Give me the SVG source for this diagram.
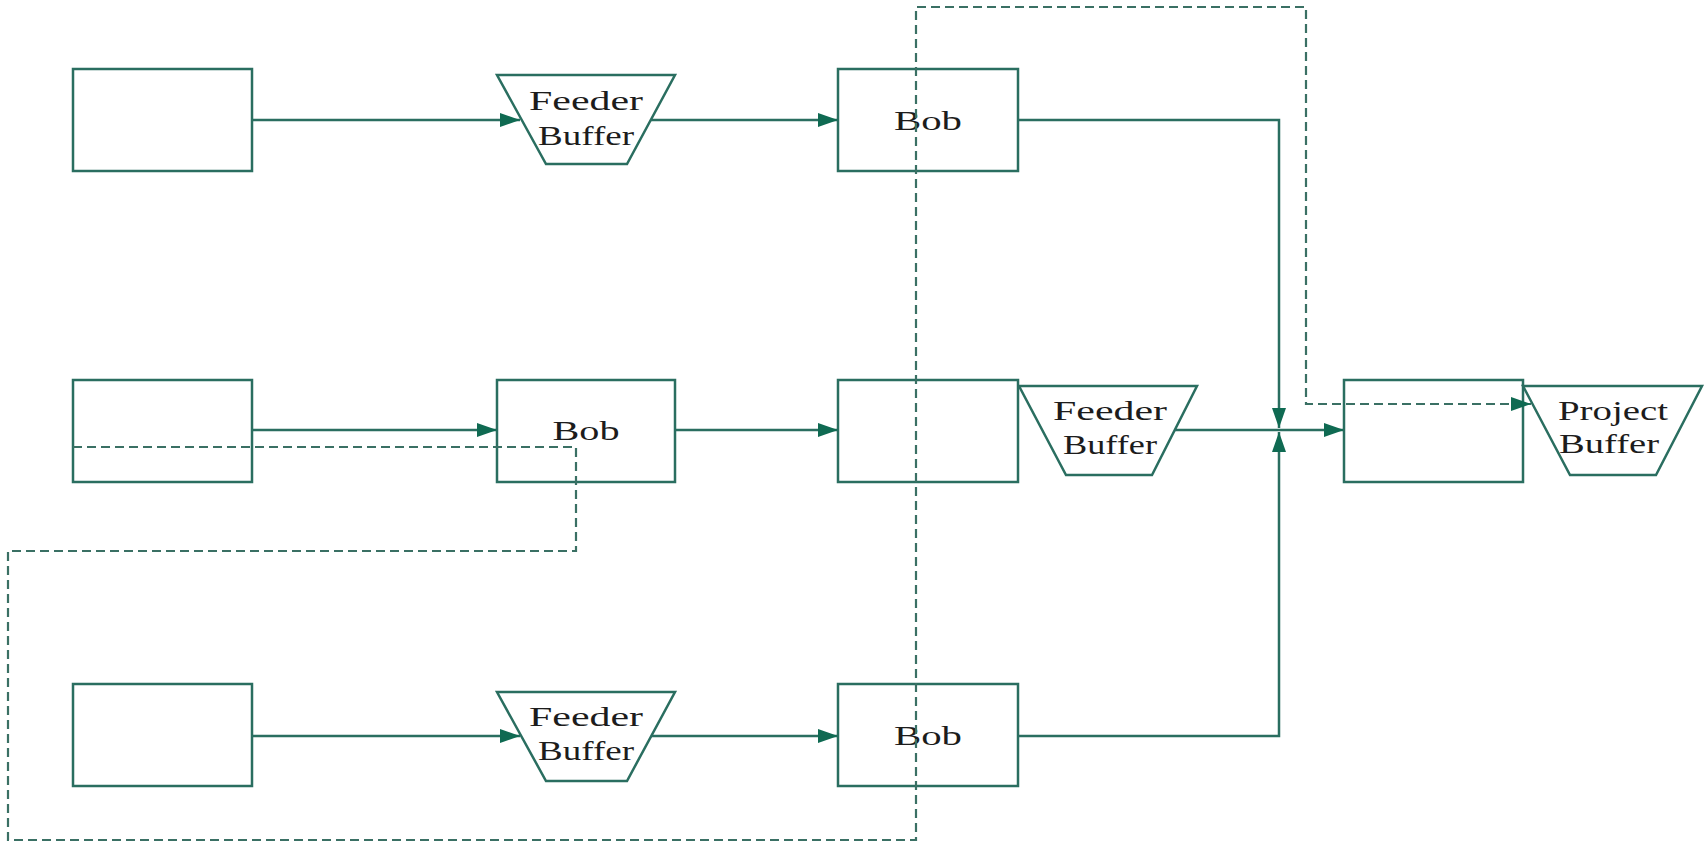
<svg xmlns="http://www.w3.org/2000/svg" width="1705" height="844" viewBox="0 0 1705 844">
  <style>
    .box { fill: #ffffff; stroke: #2a6e60; stroke-width: 2.5; }
    .line { fill: none; stroke: #2a6e60; stroke-width: 2.5; }
    .dash { fill: none; stroke: #3a7064; stroke-width: 2.2; stroke-dasharray: 9 5; }
    .lbl { font-family: "Liberation Serif", "Times New Roman", serif; font-size: 28px; fill: #1c1c1c; text-anchor: middle; }
  </style>
  <defs>
    <marker id="arr" markerUnits="userSpaceOnUse" markerWidth="22" markerHeight="16" refX="20" refY="7" orient="auto">
      <path d="M0,0 L20,7 L0,14 Z" fill="#0f6a52"/>
    </marker>
  </defs>
  <rect width="1705" height="844" fill="#ffffff"/>

  <g id="task-a1"><rect class="box" x="73" y="69" width="179" height="102"/></g>
  <g id="feeder-1">
    <polygon class="box" points="497,75 675,75 627,164 546,164"/>
    <text class="lbl" x="586" y="110" textLength="114" lengthAdjust="spacingAndGlyphs">Feeder</text>
    <text class="lbl" x="586" y="145" textLength="96" lengthAdjust="spacingAndGlyphs">Buffer</text>
  </g>
  <g id="bob-1">
    <rect class="box" x="838" y="69" width="180" height="102"/>
    <text class="lbl" x="928" y="130" textLength="68" lengthAdjust="spacingAndGlyphs">Bob</text>
  </g>

  <g id="task-a2"><rect class="box" x="73" y="380" width="179" height="102"/></g>
  <g id="bob-2">
    <rect class="box" x="497" y="380" width="178" height="102"/>
    <text class="lbl" x="586" y="440" textLength="67" lengthAdjust="spacingAndGlyphs">Bob</text>
  </g>
  <g id="task-c"><rect class="box" x="838" y="380" width="180" height="102"/></g>
  <g id="feeder-2">
    <polygon class="box" points="1019,386 1197,386 1152,475 1066,475"/>
    <text class="lbl" x="1110" y="420" textLength="114" lengthAdjust="spacingAndGlyphs">Feeder</text>
    <text class="lbl" x="1110" y="454" textLength="94" lengthAdjust="spacingAndGlyphs">Buffer</text>
  </g>
  <g id="task-b"><rect class="box" x="1344" y="380" width="179" height="102"/></g>
  <g id="project-buffer">
    <polygon class="box" points="1523,386 1702,386 1656,475 1570,475"/>
    <text class="lbl" x="1613" y="420" textLength="110" lengthAdjust="spacingAndGlyphs">Project</text>
    <text class="lbl" x="1609" y="453" textLength="100" lengthAdjust="spacingAndGlyphs">Buffer</text>
  </g>

  <g id="task-a3"><rect class="box" x="73" y="684" width="179" height="102"/></g>
  <g id="feeder-3">
    <polygon class="box" points="497,692 675,692 627,781 546,781"/>
    <text class="lbl" x="586" y="726" textLength="114" lengthAdjust="spacingAndGlyphs">Feeder</text>
    <text class="lbl" x="586" y="760" textLength="96" lengthAdjust="spacingAndGlyphs">Buffer</text>
  </g>
  <g id="bob-3">
    <rect class="box" x="838" y="684" width="180" height="102"/>
    <text class="lbl" x="928" y="745" textLength="68" lengthAdjust="spacingAndGlyphs">Bob</text>
  </g>

  <g id="connectors">
    <path class="line" d="M252 120 H520" marker-end="url(#arr)"/>
    <path class="line" d="M651 120 H838" marker-end="url(#arr)"/>
    <path class="line" d="M1018 120 H1279 V428" marker-end="url(#arr)"/>
    <path class="line" d="M252 430 H497" marker-end="url(#arr)"/>
    <path class="line" d="M675 430 H838" marker-end="url(#arr)"/>
    <path class="line" d="M1175 430 H1344" marker-end="url(#arr)"/>
    <path class="line" d="M1018 736 H1279 V432" marker-end="url(#arr)"/>
    <path class="line" d="M252 736 H520" marker-end="url(#arr)"/>
    <path class="line" d="M651 736 H838" marker-end="url(#arr)"/>
    <path class="dash" d="M73 447 H576 V551 H8 V840 H916 V7 H1306 V404 H1531" marker-end="url(#arr)"/>
  </g>
</svg>
